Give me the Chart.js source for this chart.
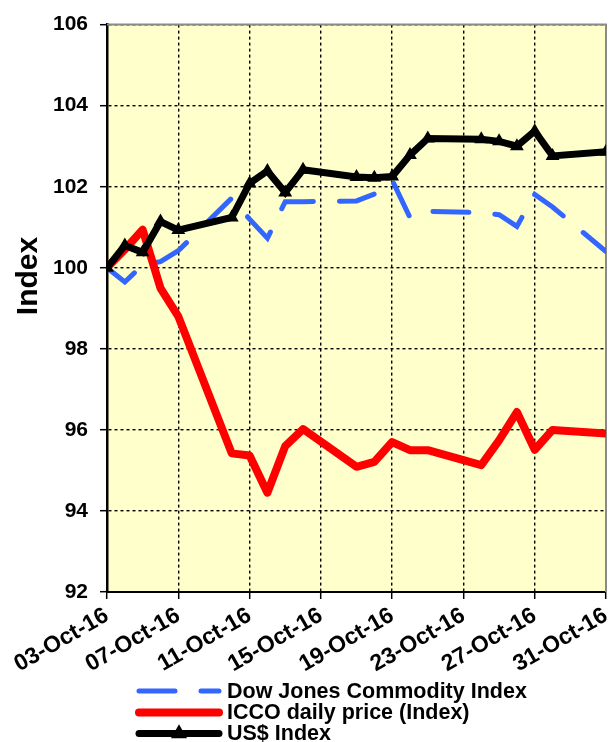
<!DOCTYPE html>
<html>
<head>
<meta charset="utf-8">
<script src="https://cdn.jsdelivr.net/npm/chart.js@4/dist/chart.umd.min.js"></script>
<style>
  html, body { margin: 0; padding: 0; background: #fff; }
  #chart { display: block; }
</style>
</head>
<body>
<canvas id="chart" width="614" height="742"></canvas>
<script>
// trading days of October 2016
const tradingDays = [3, 4, 5, 6, 7, 10, 11, 12, 13, 14, 17, 18, 19, 20, 21, 24, 25, 26, 27, 28, 31];
const dowJones = [100, 99.65, 100.07, 100.15, 100.42, 101.72, 101.2, 100.73, 101.63, 101.63, 101.65, 101.82, 102.16, 101.24, 101.39, 101.36, 101.31, 101.02, 101.81, 101.5, 100.4];
const iccoPrice = [100, 100.45, 100.94, 99.5, 98.8, 95.42, 95.37, 94.45, 95.6, 96.02, 95.09, 95.21, 95.7, 95.5, 95.5, 95.13, 95.74, 96.44, 95.51, 96.0, 95.91];
const usdIndex = [100, 100.55, 100.38, 101.14, 100.93, 101.24, 102.08, 102.39, 101.86, 102.42, 102.24, 102.22, 102.25, 102.78, 103.19, 103.17, 103.12, 103.0, 103.37, 102.76, 102.86];
const yTicks = [92, 94, 96, 98, 100, 102, 104, 106];
const xTickDays = [3, 7, 11, 15, 19, 23, 27, 31];
const seriesNames = ["Dow Jones Commodity Index", "ICCO daily price (Index)", "US$ Index"];

const FONT = "'Liberation Sans', Arial, sans-serif";

function points(values) {
  return tradingDays.map((d, i) => ({ x: d, y: values[i] }));
}

function dayLabel(v) {
  return (v < 10 ? "0" + v : "" + v) + "-Oct-16";
}

function triangle(ctx, cx, cy, r) {
  ctx.beginPath();
  ctx.moveTo(cx, cy - r * 1.15);
  ctx.lineTo(cx + r, cy + r * 0.6);
  ctx.lineTo(cx - r, cy + r * 0.6);
  ctx.closePath();
  ctx.fill();
}

const plotFrame = {
  id: "plotFrame",
  beforeDraw(chart) {
    const { ctx, chartArea: a } = chart;
    ctx.save();
    ctx.fillStyle = "#ffffcc";
    ctx.fillRect(a.left, a.top, a.right - a.left, a.bottom - a.top);
    ctx.restore();
  },
  beforeDatasetsDraw(chart) {
    const { ctx, chartArea: a } = chart;
    ctx.save();
    ctx.strokeStyle = "#8a8a8a";
    ctx.lineWidth = 2;
    ctx.beginPath();
    ctx.moveTo(a.left, a.top);
    ctx.lineTo(a.right, a.top);
    ctx.lineTo(a.right, a.bottom);
    ctx.stroke();
    ctx.restore();
  },
  afterDraw(chart) {
    const ctx = chart.ctx;
    ctx.save();
    // y axis title
    ctx.translate(29, 276);
    ctx.rotate(-Math.PI / 2);
    ctx.font = "bold 30px " + FONT;
    ctx.fillStyle = "#000";
    ctx.textAlign = "center";
    ctx.textBaseline = "middle";
    ctx.fillText("Index", 0, 0);
    ctx.restore();

    // legend, stacked
    const rows = [691, 712.5, 733.5];
    const x1 = 139, x2 = 219;
    chart.data.datasets.forEach((ds, i) => {
      const y = rows[i];
      ctx.save();
      ctx.strokeStyle = ds.borderColor;
      ctx.lineWidth = ds.borderWidth;
      ctx.lineCap = "round";
      ctx.setLineDash(ds.borderDash || []);
      ctx.beginPath();
      ctx.moveTo(x1, y);
      ctx.lineTo(x2, y);
      ctx.stroke();
      ctx.setLineDash([]);
      if (ds.pointRadius) {
        ctx.fillStyle = ds.pointBackgroundColor;
        triangle(ctx, (x1 + x2) / 2, y, ds.pointRadius);
      }
      ctx.font = "bold 21.5px " + FONT;
      ctx.fillStyle = "#000";
      ctx.textAlign = "left";
      ctx.textBaseline = "middle";
      ctx.fillText(seriesNames[i], 227, y + 1);
      ctx.restore();
    });
  }
};

new Chart(document.getElementById("chart"), {
  type: "line",
  data: {
    datasets: [
      {
        label: seriesNames[0],
        data: points(dowJones),
        borderColor: "#3366ff",
        borderWidth: 5,
        borderDash: [36, 26],
        borderCapStyle: "round",
        pointRadius: 0,
        order: 3
      },
      {
        label: seriesNames[1],
        data: points(iccoPrice),
        borderColor: "#ff0000",
        borderWidth: 8,
        borderJoinStyle: "round",
        pointRadius: 0,
        order: 2
      },
      {
        label: seriesNames[2],
        data: points(usdIndex),
        borderColor: "#000000",
        borderWidth: 7,
        pointStyle: "triangle",
        pointRadius: 8,
        pointBackgroundColor: "#000000",
        pointBorderWidth: 0,
        order: 1
      }
    ]
  },
  options: {
    responsive: false,
    animation: false,
    events: [],
    layout: { padding: { top: 22, right: 3, bottom: 0, left: 0 } },
    plugins: { legend: { display: false }, tooltip: { enabled: false } },
    scales: {
      x: {
        type: "linear",
        min: 3,
        max: 31,
        afterBuildTicks: s => { s.ticks = xTickDays.map(v => ({ value: v })); },
        afterFit: s => { s.height = 150; s.paddingLeft = 0; s.paddingRight = 0; },
        ticks: {
          autoSkip: false,
          minRotation: 30,
          maxRotation: 30,
          padding: 3,
          color: "#000",
          font: { family: FONT, size: 23, weight: "bold" },
          callback: v => dayLabel(v)
        },
        grid: { color: "#000", lineWidth: 1.4, tickLength: 7, tickColor: "#000", tickWidth: 1.5 },
        border: { color: "#000", width: 2, dash: [3, 3] }
      },
      y: {
        min: 92,
        max: 106,
        afterBuildTicks: s => { s.ticks = yTicks.map(v => ({ value: v })); },
        afterFit: s => { s.width = 107; },
        ticks: {
          padding: 12,
          color: "#000",
          font: { family: FONT, size: 21, weight: "bold" }
        },
        grid: { color: "#000", lineWidth: 1.4, tickLength: 7, tickColor: "#000", tickWidth: 1.5 },
        border: { color: "#000", width: 2.5, dash: [3, 3] }
      }
    }
  },
  plugins: [plotFrame]
});
</script>
</body>
</html>
